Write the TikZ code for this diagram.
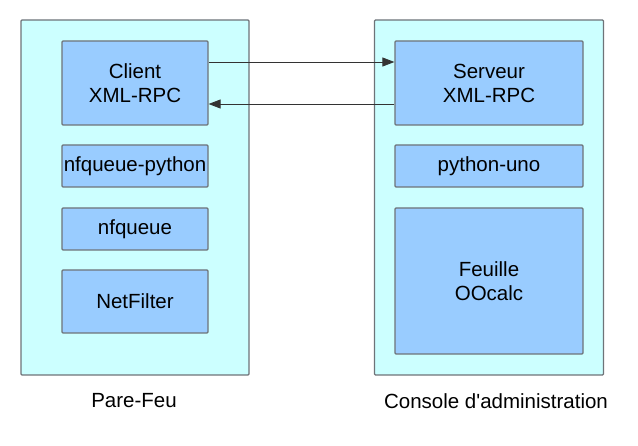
\documentclass[tikz,border=0pt]{standalone}
\usepackage{fontspec}
\setmainfont{Liberation Sans}[Ligatures=TeXOff]
\usetikzlibrary{arrows.meta}

\definecolor{cadre}{HTML}{CCFFFF}
\definecolor{bloc}{HTML}{99CCFF}
\definecolor{trait}{HTML}{6E7378}

\tikzset{
  machine/.style={draw=trait, fill=cadre, line width=1.2pt, rounded corners=1pt, inner sep=0pt},
  module/.style={draw=trait, fill=bloc, line width=1.2pt, rounded corners=1pt, align=center, inner sep=0pt},
  legende/.style={font=\fontsize{20.5}{24}\selectfont},
  fleche/.style={draw=black!80, line width=0.8pt, -{Triangle[length=12pt,width=9pt]}}
}

\begin{document}
\begin{tikzpicture}[x=1pt, y=-1pt, font=\fontsize{20.5}{24}\selectfont]
% Fix the page size
\useasboundingbox (0, 0) rectangle (638, 446);

% Left machine
\node[machine, minimum width=228pt, minimum height=355pt] (parefeu) at (135, 197.5) {};
\node[module, minimum width=146pt, minimum height=84pt] (client) at (135, 83) {Client\\XML-RPC};
\node[module, minimum width=146pt, minimum height=42pt] (nfpython) at (135, 166) {nfqueue-python};
\node[module, minimum width=146pt, minimum height=42pt] (nfqueue) at (135, 229) {nfqueue};
\node[module, minimum width=146pt, minimum height=63pt] (netfilter) at (135, 301.5) {NetFilter};
\node[legende] (lparefeu) at (134, 401) {Pare-Feu};

% Right machine
\node[machine, minimum width=229pt, minimum height=355pt] (console) at (489, 197.5) {};
\node[module, minimum width=188pt, minimum height=84pt] (serveur) at (489, 83) {Serveur\\XML-RPC};
\node[module, minimum width=188pt, minimum height=42pt] (pyuno) at (489, 166) {python-uno};
\node[module, minimum width=188pt, minimum height=146pt] (feuille) at (489, 281) {Feuille\\OOcalc};
\node[legende] (lconsole) at (496, 401) {Console d'administration};

% Calls between client and server
\draw[fleche] ([yshift=21pt]client.east) -- ([yshift=21pt]serveur.west);
\draw[fleche] ([yshift=-21pt]serveur.west) -- ([yshift=-21pt]client.east);
\end{tikzpicture}
\end{document}
